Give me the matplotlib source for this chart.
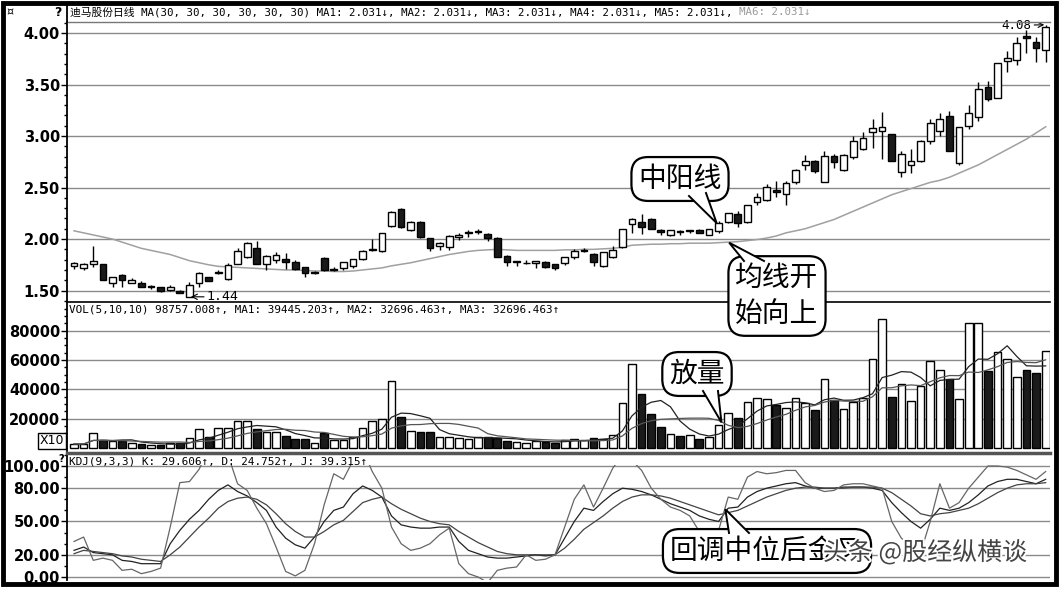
import matplotlib
matplotlib.use('Agg')
import matplotlib.pyplot as plt
import numpy as np
import pandas as pd
from matplotlib import patheffects as pe
from matplotlib.patches import Rectangle, Polygon
from matplotlib.lines import Line2D
from matplotlib.ticker import MultipleLocator

plt.rcParams['font.family'] = ['DejaVu Sans', 'Noto Sans CJK SC']

# daily candles
opens = [1.735, 1.718, 1.757, 1.76, 1.578, 1.653, 1.578, 1.578, 1.535, 1.532,
         1.51, 1.50, 1.44, 1.578, 1.627, 1.67, 1.61, 1.757, 1.83, 1.91,
         1.757, 1.80, 1.805, 1.776, 1.727, 1.67, 1.815, 1.70, 1.718, 1.734,
         1.81, 1.89, 1.88, 2.13, 2.295, 2.09, 2.17, 2.01, 1.93, 1.92,
         2.02, 2.055, 2.07, 2.05, 2.01, 1.84, 1.775, 1.765, 1.765, 1.78,
         1.757, 1.766, 1.825, 1.88, 1.854, 1.734, 1.825, 1.92, 2.15, 2.165,
         2.195, 2.09, 2.04, 2.08, 2.075, 2.09, 2.04, 2.083, 2.17, 2.245,
         2.17, 2.36, 2.38, 2.48, 2.44, 2.555, 2.715, 2.755, 2.555, 2.81,
         2.67, 2.795, 2.875, 3.035, 3.045, 3.02, 2.65, 2.715, 2.755, 2.95,
         3.05, 3.195, 2.74, 3.10, 3.18, 3.48, 3.367, 3.73, 3.737, 3.975,
         3.915, 3.834]
highs = [1.78, 1.77, 1.93, 1.76, 1.63, 1.66, 1.62, 1.59, 1.55, 1.535,
         1.55, 1.505, 1.58, 1.68, 1.635, 1.70, 1.77, 1.91, 1.97, 1.98,
         1.85, 1.87, 1.86, 1.80, 1.73, 1.69, 1.83, 1.73, 1.775, 1.81,
         1.89, 2.00, 2.06, 2.27, 2.30, 2.18, 2.18, 2.01, 1.97, 2.04,
         2.06, 2.09, 2.10, 2.06, 2.02, 1.85, 1.79, 1.80, 1.79, 1.79,
         1.76, 1.83, 1.90, 1.91, 1.86, 1.87, 1.93, 2.10, 2.20, 2.24,
         2.20, 2.10, 2.09, 2.09, 2.09, 2.10, 2.10, 2.18, 2.25, 2.27,
         2.33, 2.45, 2.53, 2.56, 2.56, 2.68, 2.82, 2.77, 2.85, 2.83,
         2.83, 3.00, 3.04, 3.17, 3.23, 3.02, 2.85, 2.87, 2.96, 3.17,
         3.22, 3.24, 3.09, 3.30, 3.52, 3.53, 3.705, 3.83, 3.96, 4.03,
         3.96, 4.08]
lows = [1.71, 1.70, 1.73, 1.60, 1.53, 1.53, 1.57, 1.53, 1.52, 1.49,
        1.50, 1.475, 1.44, 1.53, 1.59, 1.66, 1.60, 1.757, 1.82, 1.757,
        1.70, 1.77, 1.71, 1.70, 1.63, 1.665, 1.69, 1.69, 1.70, 1.72,
        1.80, 1.88, 1.87, 2.12, 2.11, 2.08, 2.01, 1.88, 1.89, 1.89,
        1.99, 2.02, 2.05, 1.98, 1.83, 1.74, 1.74, 1.76, 1.72, 1.72,
        1.70, 1.75, 1.81, 1.87, 1.74, 1.73, 1.82, 1.91, 2.06, 2.05,
        2.10, 2.04, 2.03, 2.04, 2.06, 2.06, 2.035, 2.06, 2.16, 2.12,
        2.16, 2.33, 2.37, 2.41, 2.33, 2.53, 2.67, 2.64, 2.555, 2.69,
        2.66, 2.78, 2.86, 2.88, 2.78, 2.76, 2.60, 2.64, 2.75, 2.92,
        3.00, 2.85, 2.72, 3.07, 3.15, 3.34, 3.367, 3.62, 3.69, 3.81,
        3.72, 3.72]
closes = [1.765, 1.757, 1.79, 1.60, 1.627, 1.604, 1.605, 1.532, 1.54, 1.494,
          1.53, 1.48, 1.555, 1.67, 1.594, 1.685, 1.75, 1.88, 1.96, 1.757,
          1.84, 1.845, 1.78, 1.71, 1.675, 1.685, 1.695, 1.705, 1.773, 1.805,
          1.886, 1.90, 2.058, 2.265, 2.117, 2.17, 2.02, 1.91, 1.96, 2.03,
          2.04, 2.065, 2.075, 2.01, 1.83, 1.78, 1.785, 1.77, 1.79, 1.727,
          1.718, 1.825, 1.886, 1.89, 1.776, 1.87, 1.896, 2.10, 2.195, 2.12,
          2.10, 2.065, 2.09, 2.07, 2.085, 2.06, 2.10, 2.154, 2.25, 2.154,
          2.33, 2.41, 2.51, 2.46, 2.545, 2.67, 2.76, 2.66, 2.81, 2.75,
          2.82, 2.95, 2.98, 3.077, 3.09, 2.76, 2.83, 2.76, 2.95, 3.13,
          3.17, 2.85, 3.09, 3.227, 3.455, 3.357, 3.705, 3.756, 3.90, 3.95,
          3.854, 4.06]
ma30 = [2.08, 2.06, 2.04, 2.02, 2.00, 1.97, 1.94, 1.91, 1.89, 1.87,
        1.85, 1.82, 1.79, 1.77, 1.75, 1.735, 1.73, 1.725, 1.72, 1.715,
        1.71, 1.705, 1.70, 1.70, 1.695, 1.69, 1.69, 1.685, 1.685, 1.69,
        1.70, 1.71, 1.72, 1.74, 1.755, 1.77, 1.79, 1.81, 1.83, 1.85,
        1.865, 1.88, 1.89, 1.895, 1.90, 1.895, 1.89, 1.89, 1.89, 1.89,
        1.89, 1.895, 1.895, 1.90, 1.90, 1.905, 1.91, 1.92, 1.94, 1.945,
        1.95, 1.95, 1.955, 1.955, 1.96, 1.96, 1.96, 1.965, 1.97, 1.975,
        1.985, 1.995, 2.01, 2.03, 2.06, 2.08, 2.10, 2.13, 2.16, 2.19,
        2.23, 2.27, 2.31, 2.35, 2.39, 2.43, 2.46, 2.49, 2.52, 2.55,
        2.57, 2.60, 2.64, 2.68, 2.72, 2.77, 2.82, 2.87, 2.92, 2.97,
        3.03, 3.09]
volume = [2730, 2730, 10000, 5460, 4550, 4550, 3200, 2730, 2050, 2050,
          3200, 3200, 6600, 12700, 7700, 13400, 13400, 18650, 18650, 12700,
          11150, 11150, 8400, 5900, 5900, 3200, 10500, 5460, 5460, 7300,
          13400, 18650, 19600, 46000, 21400, 11800, 11150, 11150, 7300, 7300,
          6600, 5900, 7700, 7700, 6600, 5000, 4300, 3640, 4800, 4300,
          3640, 5200, 6100, 5460, 7050, 6100, 8650, 30900, 57100, 36600,
          23000, 14560, 9300, 8400, 9100, 6370, 7700, 15700, 24100, 20700,
          31600, 33900, 33200, 29300, 27100, 33900, 30900, 25900, 46900, 32800,
          26400, 31600, 33900, 60500, 88000, 34600, 43700, 32100, 42300, 59400,
          53200, 46900, 33200, 85100, 85100, 52500, 65700, 60500, 48700, 53200,
          51400, 66400]
k_line = [24, 27, 22, 21, 20, 15, 14, 12, 12, 12,
          30, 42, 52, 60, 70, 78, 83, 77, 73, 67,
          60, 45, 35, 29, 26, 36, 50, 60, 63, 75,
          82, 78, 72, 55, 47, 45, 44, 44, 45, 45,
          32, 24, 21, 18, 17, 17, 18, 19, 20, 19,
          20, 35, 50, 62, 60, 68, 75, 80, 79, 77,
          74, 70, 66, 63, 60, 55, 52, 50, 62, 63,
          72, 77, 80, 82, 84, 85, 82, 80, 80, 80,
          81, 81, 81, 80, 78, 67, 58, 50, 44, 52,
          62, 60, 62, 67, 74, 82, 86, 88, 88, 86,
          84, 88]
d_line = [21, 24, 23, 22, 21, 19, 18, 16, 15, 14,
          20, 27, 36, 45, 53, 62, 68, 71, 72, 70,
          65, 57, 48, 41, 36, 36, 41, 47, 51, 59,
          67, 70, 72, 66, 61, 57, 53, 50, 48, 47,
          41, 36, 31, 27, 23, 21, 20, 20, 20, 20,
          20, 26, 34, 43, 49, 55, 62, 68, 72, 74,
          74, 73, 71, 68, 65, 62, 59, 56, 58, 60,
          64, 68, 72, 75, 78, 80, 81, 81, 80, 80,
          80, 81, 81, 81, 80, 76, 70, 64, 57, 55,
          57, 58, 60, 62, 66, 71, 76, 80, 83, 84,
          84, 85]
j_line = [32, 36, 15, 17, 15, 6, 7, 3, 5, 8,
          45, 85, 86, 97, 115, 125, 110, 84, 78, 62,
          48, 27, 5, 1, 6, 30, 65, 93, 88, 105,
          115, 95, 80, 45, 30, 24, 26, 30, 38, 44,
          12, 3, 0, -5, 6, 8, 9, 20, 15, 16,
          20, 45, 70, 83, 63, 80, 98, 110, 105, 96,
          80, 70, 63, 60, 55, 41, 41, 42, 72, 70,
          90, 95, 93, 94, 96, 96, 85, 80, 77, 78,
          83, 84, 84, 82, 80, 50, 35, 28, 22, 50,
          84, 62, 67, 80, 90, 100, 100, 99, 96, 92,
          88, 95]

price_ticks = [1.50, 2.00, 2.50, 3.00, 3.50, 4.00]
vol_ticks = [20000, 40000, 60000, 80000]
kdj_ticks = [0, 20, 50, 80, 100]

price_title = '迪马股份日线 MA(30, 30, 30, 30, 30, 30) MA1: 2.031↓, MA2: 2.031↓, MA3: 2.031↓, MA4: 2.031↓, MA5: 2.031↓, '
price_title2 = 'MA6: 2.031↓'
vol_title = 'VOL(5,10,10) 98757.008↑, MA1: 39445.203↑, MA2: 32696.463↑, MA3: 32696.463↑'
kdj_title = 'KDJ(9,3,3) K: 29.606↑, D: 24.752↑, J: 39.315↑'

W, H = 1062, 589
mono = ['DejaVu Sans Mono', 'Noto Sans CJK SC']
cjk = ['Noto Sans CJK SC', 'DejaVu Sans']

fig = plt.figure(figsize=(W / 100, H / 100), dpi=100)
fig.patch.set_facecolor('white')


def box(top, bottom):
    return [67 / W, 1 - bottom / H, (1050 - 67) / W, (bottom - top) / H]


ax_p = fig.add_axes(box(22, 302))
ax_v = fig.add_axes(box(302, 451), sharex=ax_p)
ax_k = fig.add_axes(box(453, 580), sharex=ax_p)

x = np.arange(len(closes))
o = np.array(opens)
c = np.array(closes)
up = c >= o

for ax in (ax_p, ax_v, ax_k):
    for s in ('top', 'right', 'bottom'):
        ax.spines[s].set_visible(False)
    ax.spines['left'].set_linewidth(1.3)
    ax.spines['left'].set_zorder(6)
    ax.tick_params(axis='x', bottom=False, labelbottom=False)
    ax.tick_params(axis='y', which='major', direction='out', length=4, width=1,
                   labelsize=10.5, pad=1)
    ax.tick_params(axis='y', which='minor', direction='out', length=2, width=1)
ax_p.set_xlim(-0.73, 101.45)

# price panel
ax_p.set_ylim(1.389, 4.107)
ax_p.set_yticks(price_ticks)
ax_p.set_yticklabels(['%.2f' % t for t in price_ticks], fontweight='bold')
ax_p.yaxis.set_minor_locator(MultipleLocator(0.1))
for t in price_ticks:
    ax_p.axhline(t, color='#8a8a8a', lw=1, zorder=0)
ax_p.plot(x, ma30, color='#a0a0a0', lw=1.1, zorder=1)
ax_p.vlines(x, lows, highs, color='black', lw=1, zorder=2)
body_h = np.maximum(np.abs(c - o), 0.006)
ax_p.bar(x, body_h, bottom=np.minimum(o, c), width=0.7,
         color=np.where(up, 'white', '#1a1a1a'), edgecolor='black', lw=1, zorder=3)
ax_p.annotate('4.08', xy=(101, 4.08), xytext=(96.4, 4.075), fontsize=9,
              family=mono, va='center', ha='left',
              arrowprops=dict(arrowstyle='->', lw=0.8, color='black',
                              shrinkA=0, shrinkB=1))
ax_p.annotate('1.44', xy=(12, 1.44), xytext=(13.8, 1.438), fontsize=9.5,
              family=mono, va='center', ha='left',
              arrowprops=dict(arrowstyle='->', lw=0.8, color='black',
                              shrinkA=0, shrinkB=1))

# volume panel
ax_v.set_ylim(-2050, 99660)
ax_v.set_yticks(vol_ticks)
ax_v.set_yticklabels(['%d' % t for t in vol_ticks], fontweight='bold')
ax_v.yaxis.set_minor_locator(MultipleLocator(5000))
for t in vol_ticks:
    ax_v.axhline(t, color='#8a8a8a', lw=1, zorder=0)
ax_v.bar(x, volume, width=0.8, color=np.where(up, 'white', '#1a1a1a'),
         edgecolor='black', lw=1, zorder=2)
vol_s = pd.Series(volume, dtype=float)
ax_v.plot(x, vol_s.rolling(5, min_periods=1).mean(), color='#222222', lw=0.9, zorder=3)
ax_v.plot(x, vol_s.rolling(10, min_periods=1).mean(), color='#555555', lw=0.9, zorder=3)

# kdj panel
ax_k.set_ylim(-2.7, 111.7)
ax_k.set_yticks(kdj_ticks)
ax_k.set_yticklabels(['%.2f' % t for t in kdj_ticks], fontweight='bold')
ax_k.yaxis.set_minor_locator(MultipleLocator(10))
for t in kdj_ticks:
    ax_k.axhline(t, color='#8a8a8a', lw=1, zorder=0)
ax_k.plot(x, k_line, color='#222222', lw=0.9, zorder=2)
ax_k.plot(x, d_line, color='#444444', lw=0.9, zorder=2)
ax_k.plot(x, j_line, color='#666666', lw=0.9, zorder=2)
ax_k.add_patch(Rectangle((-0.73, 100.6), 102.2, 12, facecolor='white',
                         edgecolor='none', zorder=4))

# headers
hdr = dict(family=mono, fontsize=7.75, va='center')
t1 = fig.text(70 / W, 1 - 12 / H, price_title, **hdr)
fig.canvas.draw()
bb = t1.get_window_extent()
fig.text(bb.x1 / W, 1 - 12 / H, price_title2, color='#9a9a9a', **hdr)
fig.text(69 / W, 1 - 310 / H, vol_title, family=mono, fontsize=7.9, va='center')
fig.text(69 / W, 1 - 462 / H, kdj_title, family=mono, fontsize=7.9, va='center',
         zorder=5)
fig.text(58 / W, 1 - 12 / H, '?', fontsize=9, fontweight='bold', ha='center', va='center')
fig.text(10 / W, 1 - 12 / H, '¤', fontsize=8, ha='center', va='center')
fig.text(61 / W, 1 - 459 / H, '?', fontsize=7, fontweight='bold', ha='center', va='center')
fig.text(52 / W, 1 - 441 / H, 'X10', fontsize=9, ha='center', va='center',
         bbox=dict(boxstyle='square,pad=0.15', fc='white', ec='black', lw=1))

# separators and frame
fig.add_artist(Line2D([67 / W, 1050 / W], [1 - 22 / H, 1 - 22 / H], color='#777777', lw=1))
fig.add_artist(Line2D([67 / W, 1050 / W], [1 - 302 / H, 1 - 302 / H], color='black', lw=1.2))
fig.add_artist(Line2D([67 / W, 1050 / W], [1 - 453 / H, 1 - 453 / H], color='#555555', lw=2.5))
fig.add_artist(Line2D([67 / W, 67 / W], [1 - 3 / H, 1 - 22 / H], color='black', lw=1.3))
fig.add_artist(Rectangle((3 / W, 1 - 584 / H), 1053 / W, 581 / H, fill=False,
                         edgecolor='black', lw=3.5))

# callouts on an overlay (pixel coords, origin top-left)
ov = fig.add_axes([0, 0, 1, 1], zorder=10)
ov.axis('off')
ov.patch.set_alpha(0)
ov.set_xlim(0, W)
ov.set_ylim(H, 0)
bub = dict(boxstyle='round,pad=0.25,rounding_size=0.6', fc='white', ec='black', lw=1.6)


def callout(text, cx, cy, base, tip_ax, tip, **kw):
    ov.text(cx, cy, text, family=cjk, fontsize=20, ha='center', va='center',
            bbox=bub, zorder=3, **kw)
    tx, ty = tip_ax.transData.transform(tip)
    ty = H - ty
    (x1, y1), (x2, y2) = base
    ov.add_patch(Polygon([(x1, y1), (tx, ty), (x2, y2)], closed=True,
                         facecolor='white', edgecolor='none', zorder=4))
    ov.plot([x1, tx, x2], [y1, ty, y2], color='black', lw=1.4, zorder=5,
            solid_joinstyle='miter')


callout('中阳线', 680, 179, [(689, 196), (706, 193)], ax_p, (66.8, 2.155))
callout('均线开\n始向上', 777, 296, [(744, 261), (764, 261)], ax_p, (68.1, 1.965),
        linespacing=1.25)
callout('放量', 697, 374, [(703, 391), (718, 391)], ax_v, (67.3, 17500))
callout('回调中位后金叉', 767, 551, [(729, 533), (749, 533)], ax_k, (67.7, 61))
ov.text(925, 553, '头条 @股经纵横谈', family=cjk, fontsize=18,
        color='#444444', ha='center', va='center', zorder=6,
        path_effects=[pe.withStroke(linewidth=3, foreground='white')])

fig.savefig('out.png', dpi=100)
